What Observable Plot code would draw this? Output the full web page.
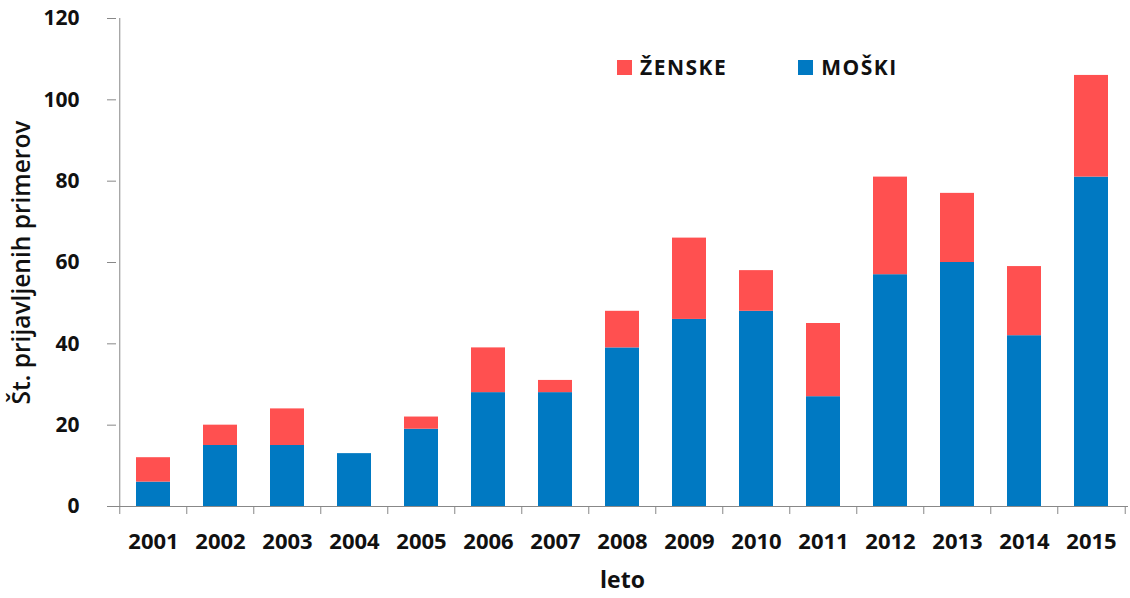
<!DOCTYPE html>
<html>
<head>
<meta charset="utf-8">
<script src="https://cdn.jsdelivr.net/npm/d3@7"></script>
<script src="https://cdn.jsdelivr.net/npm/@observablehq/plot@0.6"></script>
<style>
  html, body { margin: 0; padding: 0; background: #fff; }
  #wrap { position: relative; width: 1130px; height: 598px; font-family: "Open Sans", sans-serif; }
  .legend { position: absolute; top: 53px; left: 617px; display: flex; align-items: center; font-weight: 700; font-size: 21px; letter-spacing: 1.5px; color: #111; }
  .legend .item { display: flex; align-items: center; }
  .legend .sw { width: 15px; height: 15px; margin-right: 8px; }
</style>
</head>
<body>
<div id="wrap"></div>
<script>
const years = ["2001","2002","2003","2004","2005","2006","2007","2008","2009","2010","2011","2012","2013","2014","2015"];
const moski  = [6, 15, 15, 13, 19, 28, 28, 39, 46, 48, 27, 57, 60, 42, 81];
const zenske = [6, 5, 9, 0, 3, 11, 3, 9, 20, 10, 18, 24, 17, 17, 25];
const seriesNames = ["MOŠKI", "ŽENSKE"];
const seriesColors = ["#0079C2", "#FF5050"];
const yTicks = [0, 20, 40, 60, 80, 100, 120];

const data = [];
years.forEach((y, i) => {
  data.push({leto: y, spol: "MOŠKI", n: moski[i]});
  data.push({leto: y, spol: "ŽENSKE", n: zenske[i]});
});

const W = 1130, H = 598, mL = 116, mR = 2;
const step = (W - mL - mR) / years.length;

const chart = Plot.plot({
  width: W, height: H,
  marginLeft: mL, marginRight: mR, marginTop: 18, marginBottom: 92,
  style: {fontFamily: "Open Sans, sans-serif", background: "#fff", overflow: "visible"},
  x: {domain: years, paddingInner: 0.5, paddingOuter: 0.25},
  y: {domain: [0, 120]},
  color: {domain: seriesNames, range: seriesColors},
  marks: [
    Plot.barY(data, {x: "leto", y: "n", fill: "spol", order: seriesNames}),
    // y axis
    Plot.axisY({ticks: yTicks, tickSize: 9, stroke: "#888", fill: "#111", fontSize: 21, fontWeight: 700, tickPadding: 28, label: null}),
    Plot.ruleX([0], {x: () => years[0], dx: -step/2, stroke: "#888"}),
    // axis line
    Plot.ruleY([0], {stroke: "#888"}),
    // boundary tick marks
    Plot.axisX({tickSize: 8, tickFormat: null, stroke: "#888", dx: -step/2, label: null}),
    Plot.axisX({ticks: [years[years.length-1]], tickSize: 8, tickFormat: null, stroke: "#888", dx: step/2, label: null}),
    // labels
    Plot.axisX({tickSize: 0, tickPadding: 27, fontSize: 22, fontWeight: 700, fill: "#111", label: null}),
    Plot.axisX({tickSize: 0, tickFormat: null, label: "leto", labelAnchor: "center", labelArrow: "none", labelOffset: 81, fontSize: 23, fontWeight: 700, fill: "#111"}),
    Plot.axisY({tickSize: 0, tickFormat: null, ticks: [], label: "Št. prijavljenih primerov", labelAnchor: "center", labelArrow: "none", labelOffset: 104, fontSize: 24.5, fontWeight: 600, fill: "#111"})
  ]
});

const wrap = document.getElementById("wrap");
wrap.appendChild(chart);

const legend = document.createElement("div");
legend.className = "legend";
const legendOrder = [1, 0];
legendOrder.forEach((k, j) => {
  const it = document.createElement("div");
  it.className = "item";
  if (j > 0) it.style.marginLeft = "71px";
  const sw = document.createElement("span");
  sw.className = "sw";
  sw.style.background = seriesColors[k];
  const tx = document.createElement("span");
  tx.textContent = seriesNames[k];
  it.appendChild(sw); it.appendChild(tx);
  legend.appendChild(it);
});
wrap.appendChild(legend);
</script>
</body>
</html>
